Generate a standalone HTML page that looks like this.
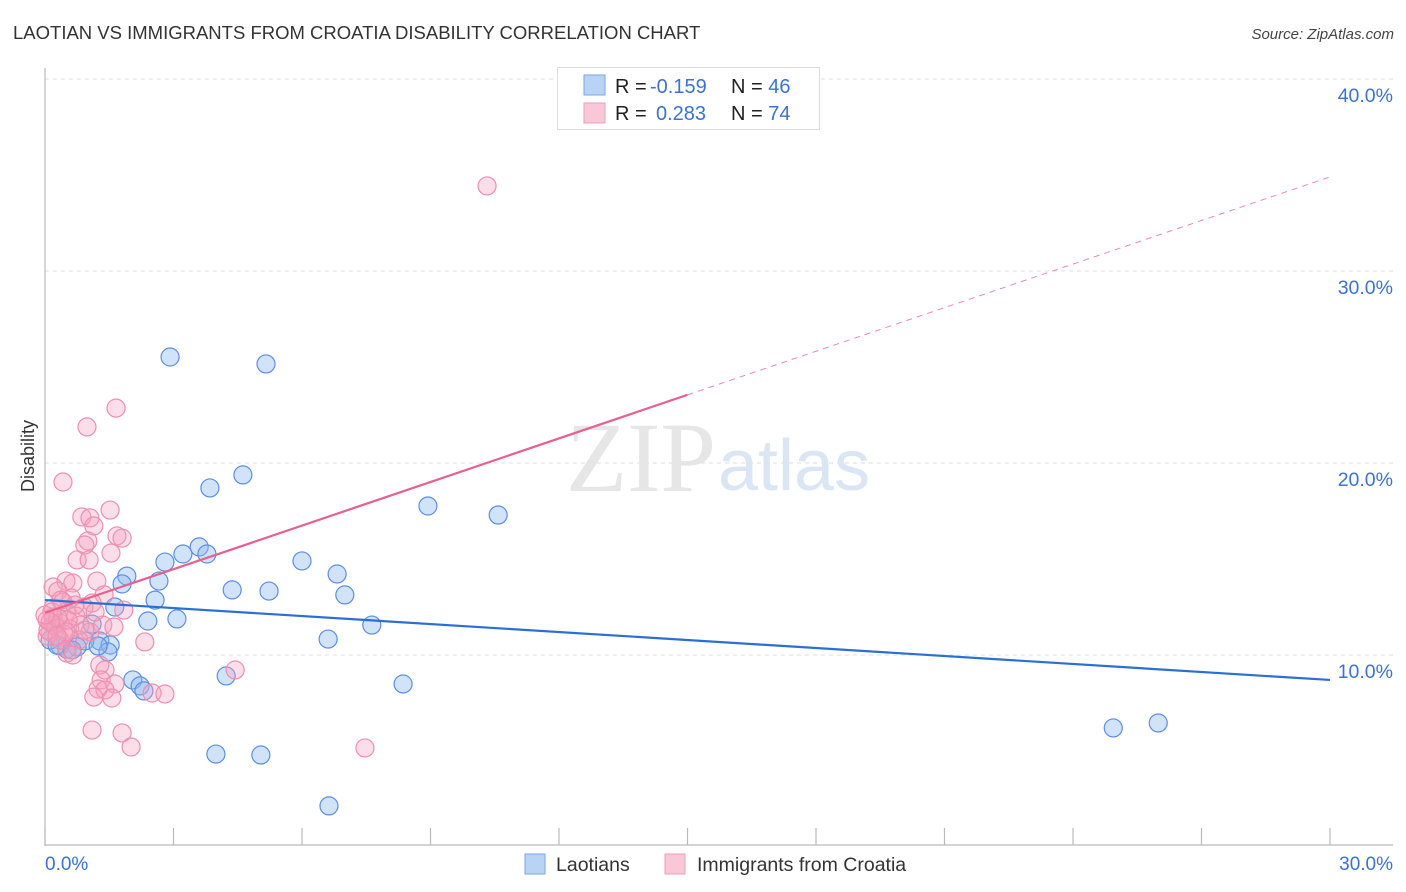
<!DOCTYPE html>
<html><head><meta charset="utf-8"><style>
body{margin:0;background:#fff;font-family:"Liberation Sans",sans-serif}
</style></head><body>
<svg id="chart" width="1406" height="892" xmlns="http://www.w3.org/2000/svg" style="display:block">
<text x="13" y="39" font-size="18.5" fill="#333">LAOTIAN VS IMMIGRANTS FROM CROATIA DISABILITY CORRELATION CHART</text>
<text x="1394" y="39" font-size="15" fill="#444" font-style="italic" text-anchor="end">Source: ZipAtlas.com</text>
<text x="34" y="456" font-size="18" fill="#333" text-anchor="middle" transform="rotate(-90 34 456)">Disability</text>
<g id="grid"></g>
<g id="axes">
<line x1="45" y1="68" x2="45" y2="846" stroke="#bbb" stroke-width="1.2"/>
<line x1="45" y1="845" x2="1393" y2="845" stroke="#bbb" stroke-width="1.2"/>
</g>
<text x="716" y="491" font-size="100" fill="#e6e6e6" font-family="Liberation Serif,serif" text-anchor="end">ZIP</text>
<text x="718" y="490" font-size="72" fill="#dbe6f5">atlas</text>
<g id="pts"></g>
<g id="trends"></g>
<text x="45" y="870" font-size="19" fill="#3b72d0">0.0%</text>
<text x="1393" y="870" font-size="19" fill="#3b72d0" text-anchor="end">30.0%</text>
<g>
<rect x="557.5" y="67.5" width="262" height="62" fill="#fff" stroke="#ddd"/>
<rect x="584" y="75" width="21" height="20" fill="#b9d3f5" stroke="#7aa6e6"/>
<rect x="584" y="103" width="21" height="20" fill="#f9c8d7" stroke="#ee9db8"/>
<text x="615" y="93" font-size="20" fill="#222">R = <tspan fill="#3b72d0" x="650">-0.159</tspan><tspan x="731">N = </tspan><tspan fill="#3b72d0">46</tspan></text>
<text x="615" y="120" font-size="20" fill="#222">R = <tspan fill="#3b72d0" x="656">0.283</tspan><tspan x="731">N = </tspan><tspan fill="#3b72d0">74</tspan></text>
</g>
<g>
<rect x="525" y="854" width="20" height="20" fill="#b9d3f5" stroke="#7aa6e6"/>
<text x="556" y="871" font-size="19.5" fill="#333">Laotians</text>
<rect x="665" y="854" width="20" height="20" fill="#f9c8d7" stroke="#ee9db8"/>
<text x="697" y="871" font-size="19.5" fill="#333">Immigrants from Croatia</text>
</g>
</svg>
<script>
const yTicks=[10,20,30,40];
const yTickLabels=["10.0%","20.0%","30.0%","40.0%"];
const xTicks=[0,3,6,9,12,15,18,21,24,27,30];
const blueX=[2.92,5.16,4.62,3.85,8.94,10.58,2.80,3.60,3.22,3.78,6.00,1.91,2.66,1.80,6.82,4.37,5.23,7.00,2.57,1.63,2.40,3.08,7.63,1.10,6.61,1.28,0.93,1.52,0.75,0.35,0.51,1.47,2.05,2.22,2.31,4.23,8.36,3.99,5.04,6.63,24.94,25.99,0.12,0.28,1.24,0.63];
const blueY=[25.52,25.16,19.38,18.70,17.76,17.29,14.84,15.63,15.26,15.26,14.90,14.11,13.85,13.70,14.22,13.39,13.33,13.13,12.86,12.50,11.77,11.88,11.56,11.61,10.83,10.73,10.73,10.52,10.42,10.47,10.31,10.16,8.70,8.39,8.13,8.91,8.49,4.84,4.79,2.14,6.20,6.46,10.78,10.52,10.47,10.26];
const pinkX=[10.32,1.66,0.98,0.42,1.52,0.86,1.05,1.14,1.68,1.80,1.00,0.93,1.54,0.75,1.03,0.49,0.65,1.21,0.19,0.30,1.38,0.61,1.10,0.42,1.84,0.91,0.19,0.49,0.72,0.19,0.05,0.35,0.82,1.35,1.61,0.26,0.58,0.12,0.44,0.05,1.05,0.79,2.33,0.51,0.65,0.23,0.35,0.07,0.16,0.54,1.28,1.40,1.31,1.63,1.24,1.40,1.14,1.56,2.50,2.80,4.44,1.10,1.80,2.01,7.47,0.37,0.70,0.30,0.12,0.49,0.93,0.0,0.28,1.17];
const pinkY=[34.43,22.86,21.88,19.01,17.55,17.19,17.14,16.72,16.20,16.09,15.94,15.73,15.31,14.95,14.95,13.85,13.75,13.85,13.54,13.33,13.13,12.97,12.71,12.76,12.34,12.50,12.45,12.24,12.03,11.98,11.82,11.67,11.56,11.56,11.46,11.41,11.35,11.20,11.09,10.99,11.20,10.78,10.68,10.10,10.00,11.56,10.78,11.30,12.24,11.82,9.48,9.22,8.70,8.49,8.23,8.18,7.81,7.76,8.02,7.97,9.22,6.09,5.94,5.21,5.16,12.86,12.60,11.93,11.72,11.20,11.30,12.08,10.99,12.24];
const blueTrend=[12.86,8.70];
const pinkTrend=[12.2,34.9];
const pinkSolidEnd=15;
const X=v=>45+v*(1285/30);
const Y=v=>847-v*19.2;
const NS="http://www.w3.org/2000/svg";
function mk(tag,attrs,parent){const e=document.createElementNS(NS,tag);for(const k in attrs)e.setAttribute(k,attrs[k]);parent.appendChild(e);return e;}
const grid=document.getElementById('grid');
yTicks.forEach((t,i)=>{
 const l=mk('line',{x1:45,x2:1393,y1:Y(t),y2:Y(t),stroke:'#ddd','stroke-dasharray':'4,4'},grid);
 
 
 const tx=mk('text',{x:1393,y:Y(t)+23,'font-size':19.5,fill:'#3b72d0','text-anchor':'end'},grid);
 tx.textContent=yTickLabels[i];
 
 
});
xTicks.forEach(t=>{
 const l=mk('line',{x1:X(t),x2:X(t),y1:828,y2:845,stroke:'#bbb','stroke-width':1.2},grid);
 
 
});
const pts=document.getElementById('pts');
blueX.forEach((x,i)=>{
 const c=mk('circle',{cx:X(x),cy:Y(blueY[i]),r:9,fill:'rgba(140,185,240,0.4)',stroke:'#5b8fe0','stroke-width':1.2},pts);
 
 
});
pinkX.forEach((x,i)=>{
 const c=mk('circle',{cx:X(x),cy:Y(pinkY[i]),r:9,fill:'rgba(245,160,190,0.35)',stroke:'#ec8fb0','stroke-width':1.2},pts);
 
 
});
const tr=document.getElementById('trends');
const b=mk('line',{x1:X(0),y1:Y(blueTrend[0]),x2:X(30),y2:Y(blueTrend[1]),stroke:'#2a6fd6','stroke-width':2.2},tr);


const pv=x=>pinkTrend[0]+(pinkTrend[1]-pinkTrend[0])*x/30;
const p1=mk('line',{x1:X(0),y1:Y(pv(0)),x2:X(pinkSolidEnd),y2:Y(pv(pinkSolidEnd)),stroke:'#e8608e','stroke-width':2.2},tr);


const p2=mk('line',{x1:X(pinkSolidEnd),y1:Y(pv(pinkSolidEnd)),x2:X(30),y2:Y(pv(30)),stroke:'#eb8aab','stroke-width':1,'stroke-dasharray':'6,5'},tr);


</script>
</body></html>
